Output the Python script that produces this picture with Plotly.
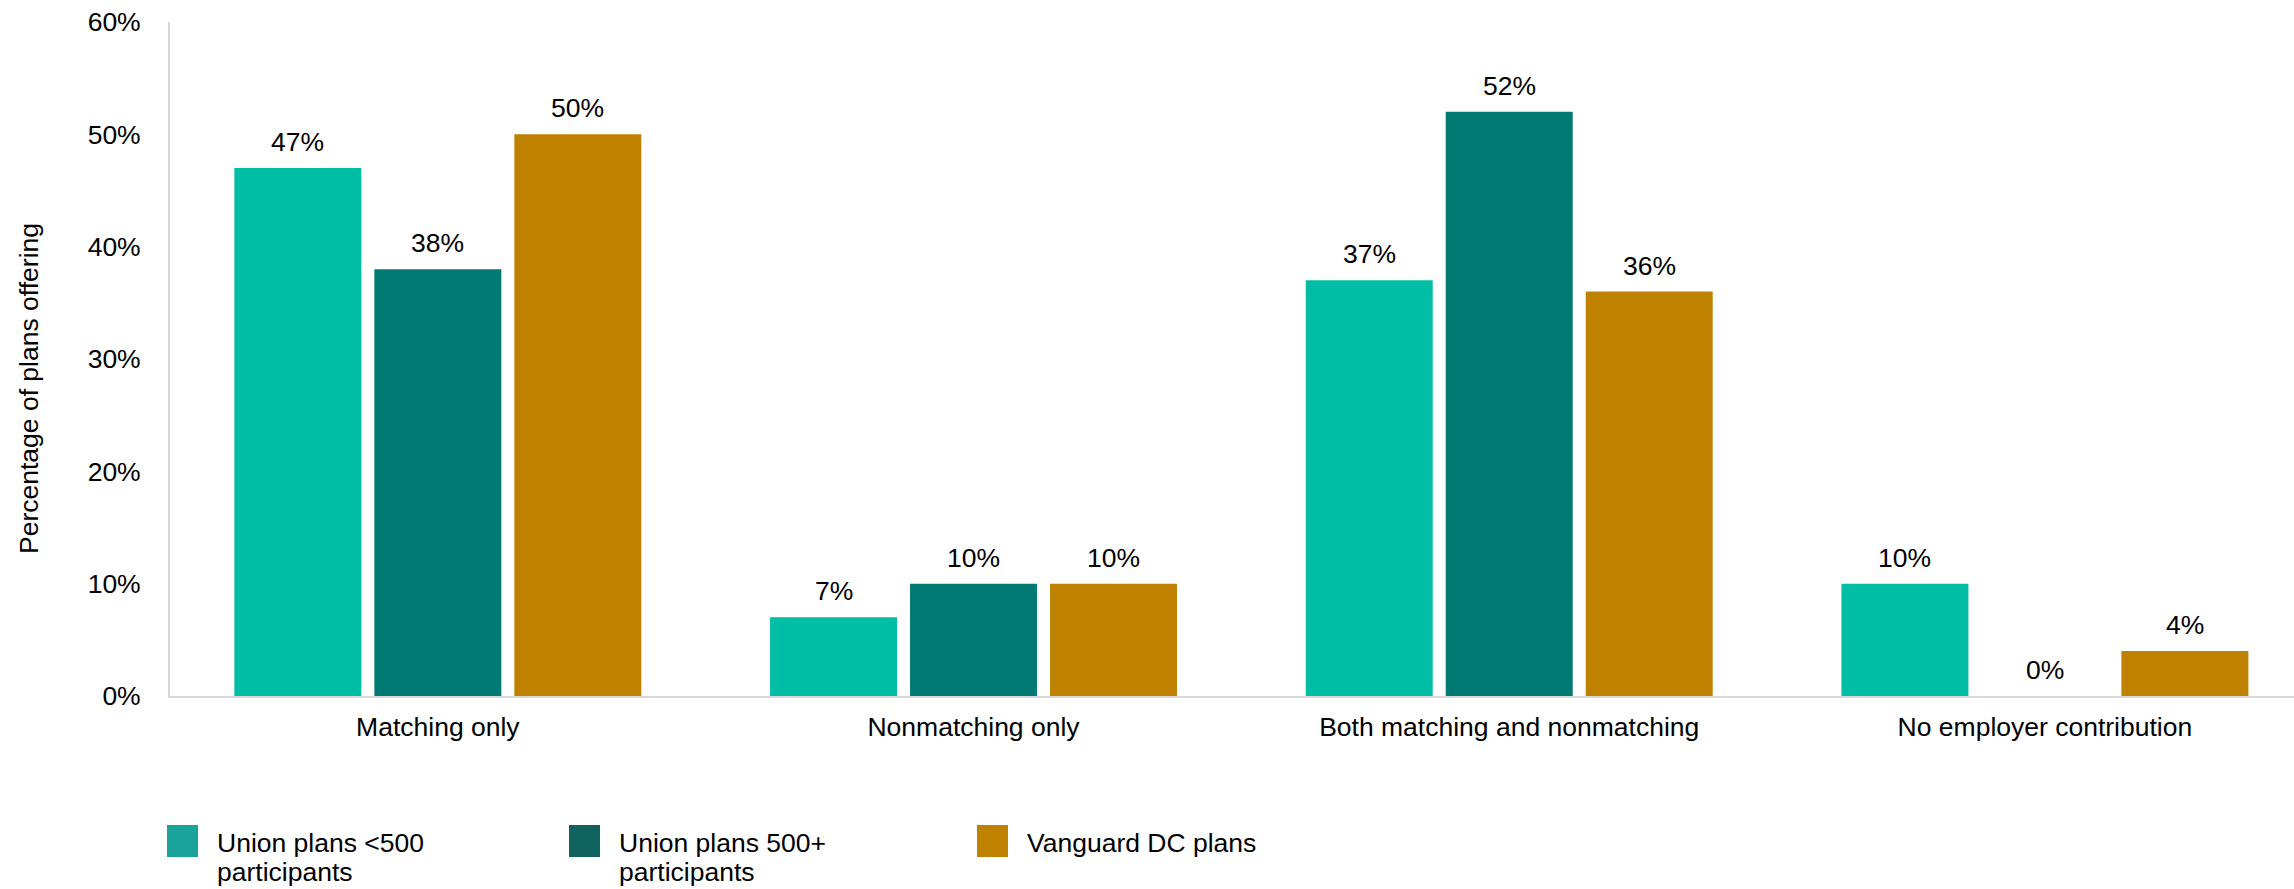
import plotly.graph_objects as go

# Contribution types offered, by plan group
categories = ["Matching only", "Nonmatching only", "Both matching and nonmatching", "No employer contribution"]
series_names = ["Union plans <500 participants", "Union plans 500+ participants", "Vanguard DC plans"]
legend_lines = [["Union plans <500", "participants"], ["Union plans 500+", "participants"], ["Vanguard DC plans"]]
union_small = [47, 7, 37, 10]
union_large = [38, 10, 52, 0]
vanguard_dc = [50, 10, 36, 4]
y_ticks = [0, 10, 20, 30, 40, 50, 60]

series_values = [union_small, union_large, vanguard_dc]
bar_colors = ["#00BDA5", "#007A73", "#BF8200"]
swatch_colors = ["#1AA39A", "#10625F", "#BF8200"]

W, H = 2294, 889
M_L, M_R, M_T, M_B = 170, 0, 22, 193
FONT = "Liberation Sans, Arial, sans-serif"
FS = 26.5
BARGAP = 0.216
X_RANGE = [-0.5, 3.465]

fig = go.Figure()
for name, vals, col in zip(series_names, series_values, bar_colors):
    fig.add_trace(go.Bar(x=categories, y=vals, name=name, marker=dict(color=col, line=dict(width=0)),
                         showlegend=False))

# value labels above each bar
slot = (1 - BARGAP) / len(series_values)
annotations = []
for k, vals in enumerate(series_values):
    off = (k - (len(series_values) - 1) / 2) * slot
    for i, v in enumerate(vals):
        annotations.append(dict(x=i + off, y=v, xref="x", yref="y", text=f"{v}%", showarrow=False,
                                yanchor="middle", yshift=26, font=dict(family=FONT, size=FS, color="#000000")))

plot_w = W - M_L - M_R
plot_h = H - M_T - M_B

def px_x(px):
    return (px - M_L) / plot_w

def px_y(py):
    return (H - M_B - py) / plot_h

# y-axis title
annotations.append(dict(x=px_x(29), y=px_y(389), xref="paper", yref="paper", text="Percentage of plans offering",
                        textangle=-90, showarrow=False, xanchor="center", yanchor="middle",
                        font=dict(family=FONT, size=FS, color="#000000")))

# legend drawn as swatches + text
shapes = []
legend_x = [167, 569, 977]
for lx, col, lines in zip(legend_x, swatch_colors, legend_lines):
    shapes.append(dict(type="rect", xref="paper", yref="paper", x0=px_x(lx), x1=px_x(lx + 31),
                       y0=px_y(857), y1=px_y(825), fillcolor=col, line=dict(width=0), layer="above"))
    for j, line in enumerate(lines):
        annotations.append(dict(x=px_x(lx + 48), y=px_y(843 + 29 * j), xref="paper", yref="paper", text=line,
                                showarrow=False, xanchor="left", yanchor="middle",
                                font=dict(family=FONT, size=FS, color="#000000")))

fig.update_layout(
    width=W, height=H,
    margin=dict(l=M_L, r=M_R, t=M_T, b=M_B, pad=0),
    paper_bgcolor="white", plot_bgcolor="white",
    barmode="group", bargap=BARGAP, bargroupgap=0.093,
    font=dict(family=FONT, size=FS, color="#000000"),
    xaxis=dict(type="category", range=X_RANGE, showgrid=False, showline=True, linecolor="#D9D9D9", linewidth=2,
               ticks="", ticklabelstandoff=6, tickfont=dict(family=FONT, size=FS, color="#000000"), zeroline=False),
    yaxis=dict(range=[0, 60], tickvals=y_ticks, ticktext=[f"{t}%" for t in y_ticks], showgrid=False,
               showline=True, linecolor="#D9D9D9", linewidth=2, ticks="", ticklabelstandoff=22,
               tickfont=dict(family=FONT, size=FS, color="#000000"), zeroline=False),
    annotations=annotations,
    shapes=shapes,
    showlegend=False,
)

fig.write_html("out.html")
